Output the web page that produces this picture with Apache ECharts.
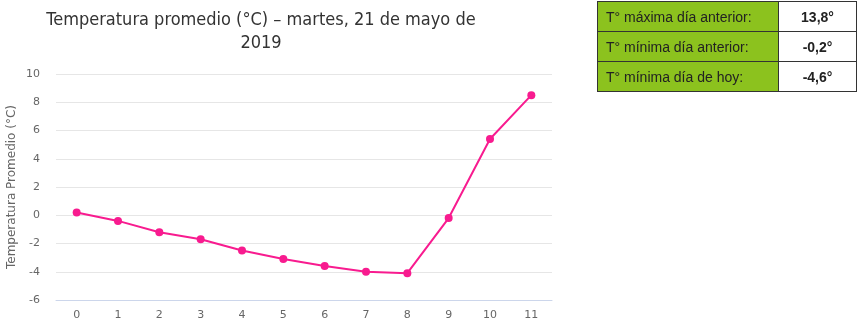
<!DOCTYPE html>
<html>
<head>
<meta charset="utf-8">
<script src="https://cdn.jsdelivr.net/npm/echarts@6/dist/echarts.min.js"></script>
<style>
html,body{margin:0;padding:0;background:#fff;}
#chart{position:absolute;left:0;top:0;width:865px;height:326px;}
#tbl{position:absolute;left:597px;top:1px;border-collapse:collapse;font-family:Arial,"Liberation Sans",sans-serif;font-size:14px;color:#222;}
#tbl td{border:1px solid #333;height:29px;padding:0;}
#tbl td.k{background:#8cc21e;width:172px;padding-left:8px;}
#tbl td.v{background:#fff;width:77px;text-align:center;font-weight:bold;}
</style>
</head>
<body>
<div id="chart"></div>
<table id="tbl"></table>
<script>
const categories = ['0','1','2','3','4','5','6','7','8','9','10','11'];
const temps = [0.2, -0.4, -1.2, -1.7, -2.5, -3.1, -3.6, -4.0, -4.1, -0.2, 5.4, 8.5];
const tableLabels = ['T° máxima día anterior:', 'T° mínima día anterior:', 'T° mínima día de hoy:'];
const tableValues = ['13,8°', '-0,2°', '-4,6°'];
const titleText = 'Temperatura promedio (°C) – martes, 21 de mayo de\n2019';
const yAxisName = 'Temperatura Promedio (°C)';

const tbl = document.getElementById('tbl');
tableLabels.forEach((l, i) => {
  const tr = document.createElement('tr');
  const a = document.createElement('td'); a.className = 'k'; a.textContent = l;
  const b = document.createElement('td'); b.className = 'v'; b.textContent = tableValues[i];
  tr.appendChild(a); tr.appendChild(b); tbl.appendChild(tr);
});

const chart = echarts.init(document.getElementById('chart'), null, {renderer: 'canvas'});
chart.setOption({
  animation: false,
  title: {
    text: titleText,
    left: 256, top: 4, textAlign: 'center',
    textStyle: {fontFamily: 'DejaVu Sans Condensed', fontSize: 18, fontWeight: 'normal', color: '#333', lineHeight: 23}
  },
  grid: {left: 56, right: 313, top: 74, bottom: 26, containLabel: false, outerBoundsMode: 'none'},
  xAxis: {
    type: 'category', data: categories, boundaryGap: true,
    axisLine: {onZero: false, lineStyle: {color: '#ccd6eb'}},
    axisTick: {show: false},
    axisLabel: {color: '#666', fontSize: 11, fontFamily: 'DejaVu Sans', margin: 10}
  },
  yAxis: {
    type: 'value', min: -6, max: 10, interval: 2,
    name: yAxisName, nameLocation: 'middle', nameGap: 38, nameRotate: 90, nameMoveOverlap: false,
    nameTextStyle: {color: '#666', fontSize: 12, fontFamily: 'DejaVu Sans'},
    axisLine: {show: false}, axisTick: {show: false},
    axisLabel: {color: '#666', fontSize: 11, fontFamily: 'DejaVu Sans', margin: 16},
    splitLine: {lineStyle: {color: '#e6e6e6'}}
  },
  series: [{
    type: 'line', data: temps,
    symbol: 'circle', symbolSize: 8,
    lineStyle: {color: '#f81b8f', width: 2},
    itemStyle: {color: '#f81b8f'}
  }]
});
</script>
</body>
</html>
